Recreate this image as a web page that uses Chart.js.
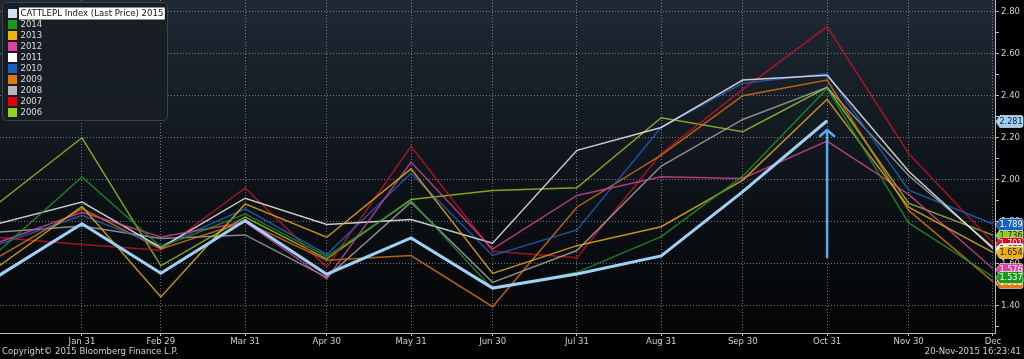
<!DOCTYPE html>
<html><head><meta charset="utf-8">
<script src="https://cdn.jsdelivr.net/npm/chart.js@4.4.1/dist/chart.umd.min.js"></script>
<style>html,body{margin:0;padding:0;background:#000;overflow:hidden}#wrap{width:1024px;height:359px;position:relative}</style>
</head><body><div id="wrap"><canvas id="c" width="1024" height="359"></canvas></div>
<script>
// ---- data ----
const pointDays = [0, 31, 60, 91, 121, 152, 182, 213, 244, 274, 305, 335, 366];
const tickDays = [31, 60, 91, 121, 152, 182, 213, 244, 274, 305, 335, 366];
const tickLabels = ['Jan 31','Feb 29','Mar 31','Apr 30','May 31','Jun 30','Jul 31','Aug 31','Sep 30','Oct 31','Nov 30','Dec'];
const yTickValues = [1.3,1.4,1.5,1.6,1.7,1.8,1.9,2.0,2.1,2.2,2.3,2.4,2.5,2.6,2.7,2.8];
const yLabelValues = [1.4,1.6,1.8,2.0,2.2,2.4,2.6,2.8];
const seriesNames = ['CATTLEPL Index (Last Price) 2015','2014','2013','2012','2011','2010','2009','2008','2007','2006'];
const s2015 = [1.540, 1.790, 1.555, 1.806, 1.550, 1.723, 1.484, 1.551, 1.637, 1.943, 2.281];
const s2014 = [1.656, 2.013, 1.680, 1.837, 1.635, 1.900, 1.480, 1.559, 1.729, 2.017, 2.435, 1.794, 1.537];
const s2013 = [1.584, 1.873, 1.442, 1.885, 1.726, 2.052, 1.554, 1.686, 1.776, 1.998, 2.383, 1.869, 1.654];
const s2012 = [1.700, 1.845, 1.727, 1.798, 1.527, 2.084, 1.670, 1.925, 2.014, 2.006, 2.184, 1.930, 1.576];
const s2011 = [1.790, 1.894, 1.676, 1.912, 1.787, 1.810, 1.698, 2.140, 2.249, 2.475, 2.498, 2.040, 1.672];
const s2010 = [1.690, 1.830, 1.685, 1.861, 1.644, 2.031, 1.639, 1.761, 2.250, 2.460, 2.506, 1.950, 1.789];
const s2009 = [1.630, 1.862, 1.670, 1.800, 1.616, 1.639, 1.395, 1.869, 2.117, 2.400, 2.475, 1.854, 1.515];
const s2008 = [1.750, 1.780, 1.720, 1.737, 1.535, 1.893, 1.511, 1.663, 2.065, 2.287, 2.440, 2.020, 1.680];
const s2007 = [1.724, 1.692, 1.664, 1.961, 1.583, 2.159, 1.659, 1.628, 2.125, 2.430, 2.729, 2.125, 1.701];
const s2006 = [1.886, 2.200, 1.590, 1.822, 1.623, 1.906, 1.949, 1.962, 2.295, 2.229, 2.440, 1.888, 1.736];
const arrowDay = 305, arrowFrom = 1.632, arrowTo = 2.237;

// ---- styles ----
const swatchColors = ['#cfe3f7','#1a9a1a','#f2b010','#e040a0','#ffffff','#1560c0','#e07a10','#b8b8b8','#e00010','#90d020'];
const lineColors = ['#9fd1f7','rgba(30,150,40,0.8)','rgba(225,170,25,0.85)','rgba(215,70,150,0.8)','rgba(235,235,235,0.85)','rgba(30,95,185,0.85)','rgba(220,120,20,0.8)','rgba(170,170,170,0.8)','rgba(200,20,35,0.8)','rgba(160,200,40,0.8)'];
const labelText = ['#10202e','#ffffff','#222','#ffffff','#222','#ffffff','#ffffff','#222','#ffffff','#222'];
const allSeries = [s2015,s2014,s2013,s2012,s2011,s2010,s2009,s2008,s2007,s2006];

function hasFont(name){
  const c=document.createElement('canvas').getContext('2d');
  const t='CATTLEPL Index (Last Price) 2015 mmmwwwiii';
  c.font='20px monospace'; const a=c.measureText(t).width;
  c.font='20px "'+name+'", monospace'; const b=c.measureText(t).width;
  return Math.abs(a-b)>0.5;
}
let F, FS, LFS;
if (hasFont('Liberation Sans Narrow')) { F='"Liberation Sans Narrow"'; FS=10.5; LFS=10.5; }
else if (hasFont('DejaVu Sans Condensed')) { F='"DejaVu Sans Condensed"'; FS=9.5; LFS=9; }
else { F='"Liberation Sans", Arial, sans-serif'; FS=9.5; LFS=9; }

const bgPlugin = {
  id:'bg',
  beforeDraw(chart){
    const {ctx, chartArea:a} = chart;
    ctx.save();
    ctx.fillStyle='#000'; ctx.fillRect(0,0,chart.width,chart.height);
    const g=ctx.createLinearGradient(0,a.top,0,a.bottom);
    g.addColorStop(0,'#1f2934'); g.addColorStop(0.5,'#0f151b'); g.addColorStop(1,'#030405');
    ctx.fillStyle=g; ctx.fillRect(a.left,a.top,a.right-a.left,a.bottom-a.top);
    ctx.restore();
  }
};

function roundRect(ctx,x,y,w,h,r){
  ctx.beginPath();
  ctx.moveTo(x+r,y); ctx.lineTo(x+w-r,y); ctx.quadraticCurveTo(x+w,y,x+w,y+r);
  ctx.lineTo(x+w,y+h-r); ctx.quadraticCurveTo(x+w,y+h,x+w-r,y+h);
  ctx.lineTo(x+r,y+h); ctx.quadraticCurveTo(x,y+h,x,y+h-r);
  ctx.lineTo(x,y+r); ctx.quadraticCurveTo(x,y,x+r,y); ctx.closePath();
}

const overlayPlugin = {
  id:'overlay',
  afterDraw(chart){
    const {ctx} = chart;
    const xs=chart.scales.x, ys=chart.scales.y;
    ctx.save();
    // arrow annotation
    const ax=xs.getPixelForValue(arrowDay), ay1=ys.getPixelForValue(arrowFrom), ay2=ys.getPixelForValue(arrowTo);
    ctx.strokeStyle='#5aaaf2'; ctx.lineWidth=2.5; ctx.lineCap='round'; ctx.lineJoin='round';
    ctx.beginPath(); ctx.moveTo(ax,ay1); ctx.lineTo(ax,ay2); ctx.stroke();
    ctx.beginPath(); ctx.moveTo(ax-7,ay2+6); ctx.lineTo(ax,ay2); ctx.lineTo(ax+7,ay2+6); ctx.stroke();

    // legend
    ctx.fillStyle='rgba(24,29,36,0.92)'; ctx.strokeStyle='#3d434b'; ctx.lineWidth=1;
    roundRect(ctx,2.5,2.5,165,118,4); ctx.fill(); ctx.stroke();
    ctx.font=FS+'px '+F; ctx.textBaseline='middle'; ctx.textAlign='left';
    for(let i=0;i<seriesNames.length;i++){
      const cy=13.5+i*11;
      ctx.fillStyle=swatchColors[i]; ctx.fillRect(8,cy-4.5,9,9);
      if(i===0){
        const w=ctx.measureText(seriesNames[0]).width;
        ctx.fillStyle='#ffffff'; ctx.fillRect(19,cy-6,w+3,12);
        ctx.fillStyle='#111'; ctx.fillText(seriesNames[0],20.5,cy+0.5);
      } else {
        ctx.fillStyle='#dcdcdc'; ctx.fillText(seriesNames[i],20.5,cy+0.5);
      }
    }

    // right side last-value labels
    const order=[6,7,9,8,4,2,3,1,5,0];
    const x0=xs.right+1;
    ctx.font=LFS+'px '+F; ctx.textAlign='center';
    for(const i of order){
      const s=allSeries[i]; const v=s[s.length-1];
      const cy=Math.round(ys.getPixelForValue(v))+0.5;
      const h=12, w=27;
      ctx.beginPath();
      ctx.moveTo(x0,cy); ctx.lineTo(x0+4,cy-h/2); ctx.lineTo(x0+w-2,cy-h/2);
      ctx.quadraticCurveTo(x0+w,cy-h/2,x0+w,cy-h/2+2); ctx.lineTo(x0+w,cy+h/2-2);
      ctx.quadraticCurveTo(x0+w,cy+h/2,x0+w-2,cy+h/2); ctx.lineTo(x0+4,cy+h/2); ctx.closePath();
      ctx.fillStyle=(i===4)?'#f4f4f4':(i===0?'#9fd1f7':swatchColors[i]);
      ctx.fill();
      ctx.strokeStyle='rgba(255,255,255,0.7)'; ctx.lineWidth=0.8; ctx.stroke();
      ctx.fillStyle=labelText[i]; ctx.textBaseline='middle';
      ctx.fillText(v.toFixed(3),x0+w/2+1.5,cy+0.5);
    }

    // footer texts
    ctx.fillStyle='#d0d0d0'; ctx.font=FS+'px '+F; ctx.textBaseline='middle';
    ctx.textAlign='left'; ctx.fillText('Copyright\u00A9 2015 Bloomberg Finance L.P.',2,352);
    ctx.textAlign='right'; ctx.fillText('20-Nov-2015 16:23:41',1021,352);
    ctx.restore();
  }
};

const datasets = allSeries.map((s,i)=>({
  label: seriesNames[i],
  data: s.map((v,k)=>({x:pointDays[k], y:v})),
  borderColor: lineColors[i],
  backgroundColor: lineColors[i],
  borderWidth: i===0?3:1.5,
  pointRadius:0, tension:0, fill:false
}));

const isMajor = v => yLabelValues.some(m=>Math.abs(m-v)<1e-6);

new Chart(document.getElementById('c'), {
  type:'line',
  data:{datasets},
  options:{
    responsive:false, animation:false, devicePixelRatio:1,
    layout:{padding:0},
    plugins:{legend:{display:false}, tooltip:{enabled:false}},
    scales:{
      x:{
        type:'linear', position:'bottom', min:0.85, max:366.75,
        afterBuildTicks:s=>{ s.ticks = tickDays.map(v=>({value:v})); },
        afterFit:s=>{ s.height=26; s.paddingLeft=0; s.paddingRight=0; s.paddingTop=0; s.paddingBottom=0; },
        ticks:{autoSkip:false, maxRotation:0, minRotation:0, padding:0, color:'#cfcfcf',
          font:{family:F, size:FS},
          callback:(v)=>{ const i=tickDays.indexOf(v); return i>=0?tickLabels[i]:''; }},
        grid:{color:'rgba(200,200,200,0.55)', lineWidth:1, tickLength:3, tickColor:'#bbbbbb', drawTicks:true},
        border:{display:true, color:'#b8b8b8', width:1, dash:[1,2]}
      },
      y:{
        type:'linear', position:'right', min:1.27, max:2.856,
        afterBuildTicks:s=>{ s.ticks = yTickValues.map(v=>({value:v})); },
        afterFit:s=>{ s.width=29; s.paddingLeft=0; s.paddingRight=0; s.paddingTop=0; s.paddingBottom=0; },
        ticks:{autoSkip:false, padding:2, color:'#cfcfcf', font:{family:F, size:FS},
          callback:(v)=> isMajor(v) ? v.toFixed(2) : ''},
        grid:{color:(c)=> (c.tick && isMajor(c.tick.value)) ? 'rgba(200,200,200,0.55)' : 'rgba(0,0,0,0)',
          lineWidth:1, tickLength:4, tickColor:'#bbbbbb', drawTicks:true},
        border:{display:true, color:'#b8b8b8', width:1, dash:[1,2]}
      }
    }
  },
  plugins:[bgPlugin, overlayPlugin]
});
</script></body></html>
